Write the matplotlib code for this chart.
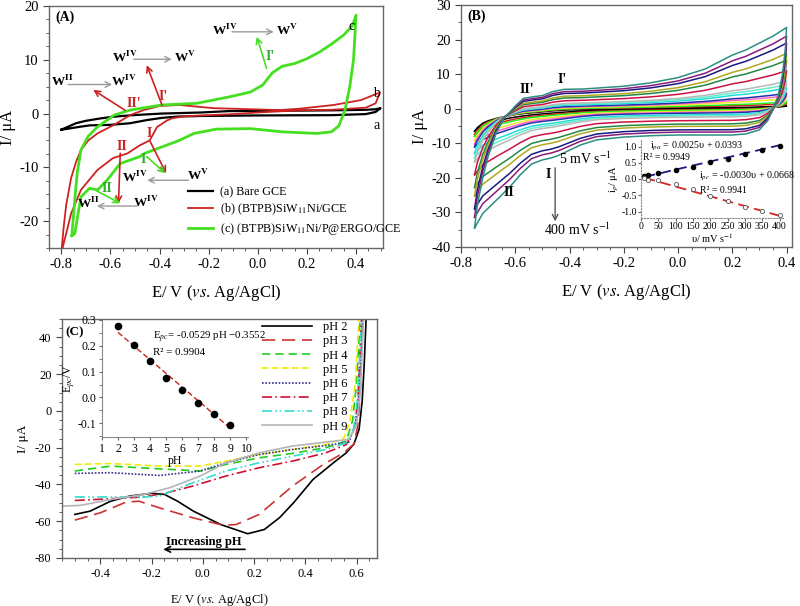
import numpy as np
import matplotlib
matplotlib.use("Agg")
import matplotlib.pyplot as plt
from matplotlib.ticker import MultipleLocator, FormatStrFormatter

plt.rcParams['font.family'] = ['Liberation Serif', 'DejaVu Serif']
plt.rcParams['mathtext.fontset'] = 'stix'
plt.rcParams['axes.unicode_minus'] = False

# ---------------- Panel A data ----------------
a_black_up_E = [-0.80, -0.77, -0.74, -0.70, -0.64, -0.59, -0.51, -0.39, -0.23, -0.12, 0.17, 0.30, 0.44, 0.48, 0.50]
a_black_up_I = [-3.0, -2.4, -1.8, -1.35, -0.9, -0.6, -0.3, 0.0, 0.2, 0.45, 0.55, 0.6, 0.7, 0.8, 1.0]
a_black_dn_E = [0.50, 0.48, 0.44, 0.30, 0.0, -0.23, -0.32, -0.39, -0.45, -0.52, -0.60, -0.685, -0.73, -0.77, -0.80]
a_black_dn_I = [1.0, 0.3, -0.1, -0.3, -0.35, -0.45, -0.55, -0.8, -1.2, -1.8, -2.1, -2.2, -2.5, -2.8, -3.0]

a_red_up_E = [-0.80, -0.79, -0.78, -0.76, -0.74, -0.72, -0.69, -0.653, -0.585, -0.52, -0.465, -0.40, -0.32, -0.18, 0.09, 0.17, 0.31, 0.42, 0.497]
a_red_up_I = [-26, -21, -17, -12, -9, -6.8, -5.0, -3.7, -2.1, -0.3, 0.65, 1.4, 1.6, 1.0, 0.65, 0.9, 1.6, 2.5, 3.9]
a_red_dn_E = [0.497, 0.48, 0.44, 0.30, 0.17, 0.0, -0.10, -0.20, -0.30, -0.35, -0.37, -0.41, -0.44, -0.48, -0.53, -0.59, -0.653, -0.72, -0.76, -0.80]
a_red_dn_I = [3.9, 1.9, 1.1, 0.7, 0.6, 0.2, -0.1, -0.3, -0.5, -0.9, -1.3, -2.5, -5.0, -5.9, -7.4, -8.3, -10.5, -14.2, -18.6, -26]

a_green_up_E = [-0.757, -0.745, -0.735, -0.72, -0.69, -0.653, -0.585, -0.52, -0.39, -0.25, -0.116, -0.03, 0.02, 0.06, 0.10, 0.15, 0.20, 0.25, 0.30, 0.35, 0.385, 0.40]
a_green_up_I = [-22.7, -16, -11, -6.8, -4.2, -2.5, -0.3, 0.65, 1.6, 1.9, 3.1, 4.0, 5.3, 7.6, 8.8, 9.3, 10.2, 11.4, 12.9, 14.6, 16.3, 18.3]
a_green_dn_E = [0.40, 0.395, 0.39, 0.375, 0.355, 0.33, 0.30, 0.24, 0.10, -0.03, -0.17, -0.26, -0.32, -0.39, -0.46, -0.48, -0.56, -0.614, -0.652, -0.685, -0.72, -0.745, -0.757]
a_green_dn_I = [18.3, 14, 10, 5.1, 0.6, -2.3, -3.4, -3.7, -3.4, -2.8, -2.9, -3.7, -5.0, -6.2, -7.4, -8.0, -9.3, -12.4, -14.2, -13.9, -15.5, -22.3, -22.7]

a_labels = ['(a) Bare GCE', '(b) (BTPB)SiW$_{11}$Ni/GCE', '(c) (BTPB)SiW$_{11}$Ni/P@ERGO/GCE']

# ---------------- Panel B data ----------------
b_up_E = [-0.75, -0.74, -0.72, -0.70, -0.67, -0.64, -0.62, -0.60, -0.57, -0.53, -0.50, -0.46, -0.42, -0.35, -0.20, -0.10, 0.0, 0.10, 0.15, 0.20, 0.25, 0.30, 0.35, 0.40]
b_up_big = [-34.5, -28, -20, -13.8, -7.0, -2.5, -1.0, 0.8, 3.0, 3.5, 3.8, 5.0, 5.6, 5.7, 6.5, 7.5, 9.0, 11.5, 13.5, 15.5, 17.0, 19.0, 21.0, 23.5]
b_up_small = [-6.5, -5.5, -4.2, -3.5, -2.8, -2.3, -2.0, -1.7, -1.4, -1.1, -0.9, -0.6, -0.4, -0.2, 0.0, 0.1, 0.2, 0.3, 0.3, 0.4, 0.4, 0.5, 0.6, 0.8]
b_dn_E = [0.40, 0.395, 0.385, 0.37, 0.35, 0.33, 0.30, 0.25, 0.20, 0.10, 0.0, -0.10, -0.20, -0.30, -0.36, -0.40, -0.44, -0.47, -0.50, -0.54, -0.58, -0.62, -0.67, -0.72, -0.75]
b_dn_big = [23.5, 17, 10, 4, -0.3, -3.5, -6.1, -7.3, -7.6, -7.6, -7.6, -7.8, -8.2, -9.0, -10.5, -12.0, -13.5, -14.3, -14.8, -16.0, -19.0, -22.6, -26.5, -30.3, -34.5]
b_dn_small = [0.8, 0.7, 0.6, 0.5, 0.4, 0.35, 0.3, 0.2, 0.1, 0.0, -0.1, -0.2, -0.3, -0.5, -0.7, -0.9, -1.1, -1.3, -1.5, -1.8, -2.2, -2.7, -3.5, -4.8, -6.5]
# anodic current at +0.4 V of each CV (5 ... 400 mV/s)
b_end_I = [0.8, 1.5, 2.0, 3.0, 3.8, 4.5, 6.0, 7.0, 8.0, 11.0, 14.0, 16.0, 19.0, 21.0, 23.5]
b_colors = ['#000000', '#d42020', '#22ee22', '#eeee22', '#ff66cc', '#2233aa', '#22dddd',
            '#66eecc', '#b8b8b8', '#cc1144', '#228844', '#b0a820', '#1a1a80', '#8a1a7a', '#2a8f80']

bi_rate = [10, 20, 50, 100, 150, 200, 250, 300, 350, 400]
bi_ipa = [0.09, 0.11, 0.18, 0.27, 0.37, 0.52, 0.62, 0.78, 0.88, 1.03]
bi_ipc = [0.03, -0.02, -0.03, -0.14, -0.32, -0.53, -0.68, -0.86, -0.97, -1.12]
bi_fit_x = [10, 400]
bi_fit_pa = [0.064, 1.039]
bi_fit_pc = [0.037, -1.133]

# ---------------- Panel C data ----------------
c_labels = ['pH 2', 'pH 3', 'pH 4', 'pH 5', 'pH 6', 'pH 7', 'pH 8', 'pH 9']
c_E = [
    [-0.50, -0.44, -0.36, -0.285, -0.20, -0.15, -0.10, -0.037, 0.07, 0.175, 0.24, 0.30, 0.354, 0.43, 0.51, 0.56, 0.59, 0.61, 0.622, 0.63, 0.638],
    [-0.50, -0.40, -0.30, -0.25, -0.17, -0.037, 0.08, 0.13, 0.22, 0.35, 0.47, 0.55, 0.59, 0.605, 0.615, 0.625],
    [-0.50, -0.36, -0.17, -0.01, 0.09, 0.22, 0.35, 0.48, 0.56, 0.585, 0.60, 0.615],
    [-0.50, -0.36, -0.17, -0.01, 0.09, 0.22, 0.35, 0.48, 0.55, 0.575, 0.595, 0.61],
    [-0.50, -0.36, -0.17, -0.01, 0.09, 0.22, 0.35, 0.48, 0.57, 0.595, 0.61, 0.625],
    [-0.50, -0.36, -0.23, -0.14, -0.04, 0.09, 0.22, 0.35, 0.48, 0.56, 0.59, 0.605, 0.62],
    [-0.50, -0.36, -0.23, -0.17, -0.04, 0.09, 0.22, 0.35, 0.48, 0.56, 0.59, 0.605, 0.62],
    [-0.55, -0.48, -0.36, -0.23, -0.13, -0.01, 0.09, 0.22, 0.35, 0.48, 0.57, 0.60, 0.615, 0.628],
]
c_I = [
    [-56.3, -54.5, -49.1, -46.3, -44.8, -45.4, -49.0, -54.5, -61.8, -66.8, -64.5, -58, -50, -37.3, -28.2, -22.8, -18, -10, 5, 25, 52],
    [-59.4, -55.4, -49.6, -49.1, -52.7, -58.2, -62.2, -61.8, -56.3, -40.9, -29.1, -22.8, -18, -8, 10, 52],
    [-32.7, -30.0, -31.5, -32.7, -29.1, -25.5, -23.1, -20.0, -16.4, -5, 15, 52],
    [-29.1, -28.6, -30.0, -30.0, -27.3, -23.7, -21.0, -18.3, -15, -5, 15, 52],
    [-34.0, -33.6, -35.1, -32.7, -28.2, -23.7, -21.0, -18.8, -17, -8, 10, 52],
    [-48.7, -47.8, -46.8, -44.5, -40.9, -35.4, -30.9, -27.3, -22.8, -18.3, -10, 5, 52],
    [-46.8, -46.8, -46.8, -46.3, -39.1, -32.7, -28.2, -24.6, -21.0, -17.4, -9, 8, 52],
    [-51.8, -51.4, -48.2, -45.4, -41.8, -35.4, -28.2, -22.8, -19.1, -17.0, -15.5, -8, 10, 52],
]
c_colors = ['#000000', '#cc3333', '#22cc22', '#eeee00', '#333388', '#cc1133', '#33ddcc', '#b4b4bc']
c_styles = ['-', (0, (8, 4)), (0, (5, 3)), (0, (4, 2)), (0, (1, 1)), (0, (6, 2, 1, 2)), (0, (6, 2, 1, 1.5, 1, 2)), '-']

ci_pH = [2, 3, 4, 5, 6, 7, 8, 9]
ci_Epc = [0.275, 0.204, 0.142, 0.075, 0.029, -0.02, -0.064, -0.106]
ci_fit_x = [2, 9]
ci_fit_y = [0.252, -0.119]

W, H = 800, 606
fig = plt.figure(figsize=(8, 6.06), dpi=100)


def rect(l, t, r, b):
    return [l / W, 1 - b / H, (r - l) / W, (b - t) / H]


def style(ax, fs=10.5):
    for s in ax.spines.values():
        s.set_color('#666666')
        s.set_linewidth(1.0)
    ax.tick_params(which='both', direction='out', colors='#444444', labelcolor='black', labelsize=fs)
    ax.tick_params(which='major', length=4)
    ax.tick_params(which='minor', length=2)


# ================= Panel A =================
axA = fig.add_axes(rect(49, 6, 383, 248))
axA.plot(a_black_up_E + a_black_dn_E, a_black_up_I + a_black_dn_I, color='black', lw=1.6, label=a_labels[0])
axA.plot(a_red_up_E + a_red_dn_E, a_red_up_I + a_red_dn_I, color='#cc2222', lw=1.3, label=a_labels[1])
axA.plot(a_green_up_E + a_green_dn_E, a_green_up_I + a_green_dn_I, color='#44e020', lw=2.0, label=a_labels[2])
axA.set_xlim(-0.85, 0.51)
axA.set_ylim(-25, 20)
axA.xaxis.set_major_locator(MultipleLocator(0.2))
axA.xaxis.set_minor_locator(MultipleLocator(0.05))
axA.yaxis.set_major_locator(MultipleLocator(10))
axA.yaxis.set_minor_locator(MultipleLocator(2.5))
axA.xaxis.set_major_formatter(FormatStrFormatter('%.1f'))
style(axA)
axA.set_xlabel('E/ V ($\\it{vs}$. Ag/AgCl)', fontsize=12, labelpad=8)
axA.set_ylabel('I/ μA', fontsize=12, labelpad=2)
axA.text(-0.825, 17.3, '(A)', fontsize=10, fontweight='bold')
axA.text(0.37, 15.5, 'c', fontsize=10)
axA.text(0.47, 3.0, 'b', fontsize=10)
axA.text(0.47, -2.8, 'a', fontsize=10)
axA.legend(loc='upper left', bbox_to_anchor=(188 / W, 1 - 186 / H), bbox_transform=fig.transFigure,
           frameon=False, fontsize=8.7, handlelength=2.1, handletextpad=0.55, labelspacing=0.33,
           borderpad=0, borderaxespad=0)

grey = '#9a9a9a'
wkw = dict(fontsize=9.5, fontweight='bold', ha='center', va='center')


def garrow(ax, x0, x1, y):
    ax.annotate('', xy=(x1, y), xytext=(x0, y),
                arrowprops=dict(arrowstyle='->', color=grey, lw=1.0, shrinkA=0, shrinkB=0))


def carrow(ax, p0, p1, c):
    ax.annotate('', xy=p1, xytext=p0,
                arrowprops=dict(arrowstyle='->', color=c, lw=1.2, shrinkA=0, shrinkB=0))


axA.text(-0.133, 15.5, 'W$^{\\mathbf{IV}}$', **wkw)
garrow(axA, -0.105, 0.065, 15.2)
axA.text(0.12, 15.5, 'W$^{\\mathbf{V}}$', **wkw)
axA.text(-0.54, 10.5, 'W$^{\\mathbf{IV}}$', **wkw)
garrow(axA, -0.505, -0.35, 10.1)
axA.text(-0.296, 10.5, 'W$^{\\mathbf{V}}$', **wkw)
axA.text(-0.795, 5.9, 'W$^{\\mathbf{II}}$', **wkw)
garrow(axA, -0.772, -0.593, 5.4)
axA.text(-0.545, 5.9, 'W$^{\\mathbf{IV}}$', **wkw)
axA.text(-0.50, -11.8, 'W$^{\\mathbf{IV}}$', **wkw)
garrow(axA, -0.282, -0.45, -12.4)
axA.text(-0.245, -11.5, 'W$^{\\mathbf{V}}$', **wkw)
axA.text(-0.69, -16.8, 'W$^{\\mathbf{II}}$', **wkw)
garrow(axA, -0.492, -0.655, -17.2)
axA.text(-0.455, -16.5, 'W$^{\\mathbf{IV}}$', **wkw)

red = '#cc2222'
green = '#44dd22'
lkw = dict(fontsize=10, fontweight='bold', ha='center', va='center')
carrow(axA, (-0.54, 0.6), (-0.67, 4.4), red)
axA.text(-0.505, 1.9, "II'", color=red, **lkw)
carrow(axA, (-0.39, 1.6), (-0.452, 9.0), red)
axA.text(-0.385, 3.2, "I'", color=red, **lkw)
carrow(axA, (0.036, 8.4), (-0.004, 14.3), green)
axA.text(0.05, 10.7, "I'", color='#33aa33', **lkw)
carrow(axA, (-0.438, -5.2), (-0.373, -11.1), red)
axA.text(-0.441, -3.7, 'I', color=red, **lkw)
carrow(axA, (-0.56, -7.4), (-0.567, -16.7), red)
axA.text(-0.553, -6.2, 'II', color=red, **lkw)
carrow(axA, (-0.452, -8.0), (-0.377, -11.1), green)
axA.text(-0.465, -8.6, 'I', color='#33aa33', **lkw)
carrow(axA, (-0.655, -14.4), (-0.56, -16.7), green)
axA.text(-0.614, -13.9, 'II', color='#33aa33', **lkw)

# ================= Panel B =================
axB = fig.add_axes(rect(461, 5, 792, 247))
big_end = b_up_big[-1]
small_end = b_up_small[-1]
for v, col in zip(b_end_I, b_colors):
    f = (v - small_end) / (big_end - small_end)
    up = [s + f * (b - s) for s, b in zip(b_up_small, b_up_big)]
    dn = [s + f * (b - s) for s, b in zip(b_dn_small, b_dn_big)]
    axB.plot(b_up_E + b_dn_E, up + dn, color=col, lw=1.1)
axB.set_xlim(-0.8, 0.42)
axB.set_ylim(-40, 30)
axB.xaxis.set_major_locator(MultipleLocator(0.2))
axB.xaxis.set_minor_locator(MultipleLocator(0.05))
axB.yaxis.set_major_locator(MultipleLocator(10))
axB.yaxis.set_minor_locator(MultipleLocator(5))
axB.xaxis.set_major_formatter(FormatStrFormatter('%.1f'))
style(axB)
axB.set_xlabel('E/ V ($\\it{vs}$. Ag/AgCl)', fontsize=12, labelpad=8)
axB.set_ylabel('I/ μA', fontsize=12, labelpad=2)
axB.text(-0.777, 26.8, '(B)', fontsize=10, fontweight='bold', va='center')
bkw = dict(fontsize=10, fontweight='bold', ha='center', va='center')
axB.text(-0.559, 5.6, "II'", **bkw)
axB.text(-0.426, 8.5, "I'", **bkw)
axB.text(-0.48, -19.0, 'I', **bkw)
axB.text(-0.622, -24.2, 'II', **bkw)
axB.text(-0.44, -14.6, '5 mV s$^{-1}$', fontsize=10, ha='left', va='center')
axB.text(-0.372, -35.0, '400 mV s$^{-1}$', fontsize=10, ha='center', va='center')
axB.annotate('', xy=(-0.453, -32.6), xytext=(-0.453, -17.1),
             arrowprops=dict(arrowstyle='->', color='#555555', lw=1.0, shrinkA=0, shrinkB=0))

axBi = fig.add_axes(rect(641, 140, 783, 218))
axBi.patch.set_alpha(0)
axBi.plot(bi_fit_x, bi_fit_pa, color='#1a1a80', lw=1.3, ls=(0, (6, 3)))
axBi.plot(bi_fit_x, bi_fit_pc, color='#dd2222', lw=1.3, ls=(0, (6, 3)))
axBi.plot(bi_rate, bi_ipa, 'o', color='black', ms=3)
axBi.plot(bi_rate, bi_ipc, 'o', mfc='white', mec='#555555', ms=3, mew=0.6)
axBi.set_xlim(0, 410)
axBi.set_ylim(-1.2, 1.2)
axBi.xaxis.set_major_locator(MultipleLocator(50))
axBi.yaxis.set_major_locator(MultipleLocator(0.5))
axBi.yaxis.set_major_formatter(FormatStrFormatter('%.1f'))
for s in ['top', 'right']:
    axBi.spines[s].set_visible(False)
for s in ['left', 'bottom']:
    axBi.spines[s].set_linestyle(':')
    axBi.spines[s].set_color('#888888')
axBi.tick_params(labelsize=7, length=2, colors='#666666', labelcolor='black', pad=1)
axBi.set_xlabel('υ/ mV s$^{-1}$', fontsize=7.5, labelpad=0)
axBi.set_ylabel('i$_p$/ μA', fontsize=7.5, labelpad=0)
axBi.text(26, 0.99, 'i$_{pa}$ = 0.0025υ + 0.0393', fontsize=7.2, va='center')
axBi.text(6, 0.66, 'R² = 0.9949', fontsize=7, va='center')
axBi.text(168, 0.07, 'i$_{pc}$ = -0.0030υ + 0.0668', fontsize=7.2, va='center')
axBi.text(170, -0.36, 'R² = 0.9941', fontsize=7, va='center')

# ================= Panel C =================
axC = fig.add_axes(rect(62, 319, 377, 558))
for e, i, col, ls, lab in zip(c_E, c_I, c_colors, c_styles, c_labels):
    axC.plot(e, i, color=col, ls=ls, lw=1.2, label=lab)
axC.set_xlim(-0.55, 0.68)
axC.set_ylim(-80, 50)
axC.xaxis.set_major_locator(MultipleLocator(0.2))
axC.xaxis.set_minor_locator(MultipleLocator(0.05))
axC.yaxis.set_major_locator(MultipleLocator(20))
axC.yaxis.set_minor_locator(MultipleLocator(5))
axC.xaxis.set_major_formatter(FormatStrFormatter('%.1f'))
style(axC, fs=9)
axC.set_xlabel('E/ V ($\\it{vs}$. Ag/AgCl)', fontsize=9, labelpad=8)
axC.set_ylabel('I/ μA', fontsize=9.5, labelpad=4)
axC.text(-0.535, 41, '(C)', fontsize=9.5, fontweight='bold')
axC.legend(loc='upper left', bbox_to_anchor=(262 / W, 1 - 321 / H), bbox_transform=fig.transFigure,
           frameon=False, fontsize=9, handlelength=4.0, handletextpad=0.9, labelspacing=0.18,
           borderpad=0, borderaxespad=0)
axC.annotate('', xy=(-0.155, -75.3), xytext=(0.165, -75.3),
             arrowprops=dict(arrowstyle='->', color='black', lw=1.2, shrinkA=0, shrinkB=0))
axC.text(0.005, -71.5, 'Increasing pH', fontsize=9, fontweight='bold', ha='center', va='center')

axCi = fig.add_axes(rect(102, 320, 248, 437))
axCi.patch.set_alpha(0)
axCi.plot(ci_fit_x, ci_fit_y, color='#cc2222', lw=1.0, ls=(0, (4, 2)))
axCi.plot(ci_pH, ci_Epc, 'o', color='black', ms=4.5)
axCi.set_xlim(1.0, 10.1)
axCi.set_ylim(-0.153, 0.30)
axCi.xaxis.set_major_locator(MultipleLocator(1))
axCi.yaxis.set_major_locator(MultipleLocator(0.1))
axCi.yaxis.set_minor_locator(MultipleLocator(0.05))
axCi.yaxis.set_major_formatter(FormatStrFormatter('%.1f'))
for s in ['top', 'right']:
    axCi.spines[s].set_visible(False)
for s in ['left', 'bottom']:
    axCi.spines[s].set_color('#888888')
axCi.tick_params(which='both', labelsize=8.5, length=2, colors='#666666', labelcolor='black', pad=2)
axCi.set_xlabel('pH', fontsize=8.5, labelpad=0.5)
axCi.set_ylabel('E$_{pc}$/V', fontsize=8.5, labelpad=0)
axCi.text(4.2, 0.225, 'E$_{pc}$= -0.0529 pH −0.3552', fontsize=7.8)
axCi.text(4.2, 0.165, 'R² = 0.9904', fontsize=7.8)

fig.savefig('out.png', dpi=100)
